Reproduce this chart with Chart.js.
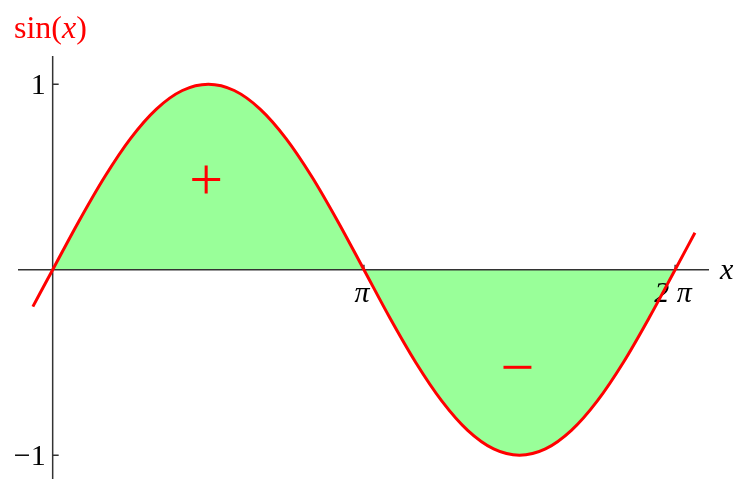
<!DOCTYPE html>
<html>
<head>
<meta charset="utf-8">
<script src="https://cdn.jsdelivr.net/npm/chart.js@4"></script>
<style>
  body { margin: 0; background: #fff; }
</style>
</head>
<body>
<canvas id="sineChart" width="737" height="480"></canvas>
<script>
// curve samples (x in radians)
const xValues = [-0.2, 0, 0.262, 0.524, 0.785, 1.047, 1.309, 1.571, 1.833, 2.094, 2.356, 2.618, 2.88, 3.142,
  3.403, 3.665, 3.927, 4.189, 4.451, 4.712, 4.974, 5.236, 5.498, 5.76, 6.021, 6.283, 6.483];
const yValues = [-0.199, 0, 0.259, 0.5, 0.707, 0.866, 0.966, 1, 0.966, 0.866, 0.707, 0.5, 0.259, 0,
  -0.259, -0.5, -0.707, -0.866, -0.966, -1, -0.966, -0.866, -0.707, -0.5, -0.259, 0, 0.199];
// shaded area only between 0 and 2π
const shadedFrom = 1;
const shadedTo = 25;

const xTickValues = [3.1416, 6.2832];
const xTickLabels = ['π', '2 π'];
const yTickValues = [1, -1];
const yTickLabels = ['1', '−1'];

const signLabels = ['+', '−'];
const signX = [1.55, 4.69];
const signY = [0.465, -0.545];

const points = xValues.map((x, i) => ({ x: x, y: yValues[i] }));
const shaded = points.slice(shadedFrom, shadedTo + 1);

const serif = '"Liberation Serif", "DejaVu Serif", serif';

// axes crossing at the origin, drawn between the fill and the red curve
const axesPlugin = {
    id: 'axesPlugin',
    beforeDatasetDraw(chart, args) {
        if (args.index !== 0) return;
        const ctx = chart.ctx;
        const xs = chart.scales.x, ys = chart.scales.y;
        const area = chart.chartArea;
        const x0 = xs.getPixelForValue(0), y0 = ys.getPixelForValue(0);
        ctx.save();
        ctx.strokeStyle = '#333';
        ctx.lineWidth = 1.5;
        ctx.beginPath();
        ctx.moveTo(area.left, y0); ctx.lineTo(area.right, y0);
        ctx.moveTo(x0, area.top); ctx.lineTo(x0, area.bottom);
        xTickValues.forEach(v => {
            const px = xs.getPixelForValue(v);
            ctx.moveTo(px, y0); ctx.lineTo(px, y0 - 5);
        });
        yTickValues.forEach(v => {
            const py = ys.getPixelForValue(v);
            ctx.moveTo(x0, py); ctx.lineTo(x0 + 6, py);
        });
        ctx.stroke();

        ctx.fillStyle = '#000';
        ctx.font = 'italic 30px ' + serif;
        ctx.textAlign = 'center';
        ctx.textBaseline = 'alphabetic';
        xTickValues.forEach((v, i) => {
            ctx.fillText(xTickLabels[i], xs.getPixelForValue(v) - 2, y0 + 32);
        });
        ctx.font = '30px ' + serif;
        ctx.textAlign = 'right';
        yTickValues.forEach((v, i) => {
            ctx.fillText(yTickLabels[i], x0 - 7, ys.getPixelForValue(v) + 10);
        });
        ctx.textAlign = 'left';
        ctx.font = 'italic 30px ' + serif;
        ctx.fillText('x', 720, y0 + 9);
        ctx.restore();
    },
    afterDraw(chart) {
        const ctx = chart.ctx;
        const xs = chart.scales.x, ys = chart.scales.y;
        ctx.save();
        ctx.fillStyle = '#ff0000';
        // y axis title: sin(x)
        ctx.textBaseline = 'alphabetic';
        ctx.textAlign = 'left';
        let px = 14;
        const parts = [['sin(', ''], ['x', 'italic '], [')', '']];
        parts.forEach(p => {
            ctx.font = p[1] + '32px ' + serif;
            ctx.fillText(p[0], px, 38);
            px += ctx.measureText(p[0]).width;
        });
        // + and − signs
        ctx.font = '60px ' + serif;
        ctx.textAlign = 'center';
        ctx.textBaseline = 'middle';
        signLabels.forEach((s, i) => {
            ctx.fillText(s, xs.getPixelForValue(signX[i]), ys.getPixelForValue(signY[i]));
        });
        ctx.restore();
    }
};

new Chart(document.getElementById('sineChart').getContext('2d'), {
    type: 'scatter',
    data: {
        datasets: [{
            data: points,
            showLine: true,
            borderColor: '#ff0000',
            borderWidth: 3,
            pointRadius: 0,
            cubicInterpolationMode: 'monotone',
            fill: false
        }, {
            data: shaded,
            showLine: true,
            borderWidth: 0,
            borderColor: 'rgba(0,0,0,0)',
            backgroundColor: '#99ff99',
            pointRadius: 0,
            cubicInterpolationMode: 'monotone',
            fill: 'origin'
        }]
    },
    options: {
        responsive: false,
        animation: false,
        layout: { padding: { left: 18, right: 28, top: 56, bottom: 1 } },
        plugins: { legend: { display: false }, tooltip: { enabled: false } },
        scales: {
            x: { type: 'linear', min: -0.35, max: 6.625, display: false },
            y: { type: 'linear', min: -1.128, max: 1.152, display: false }
        }
    },
    plugins: [axesPlugin]
});
</script>
</body>
</html>
